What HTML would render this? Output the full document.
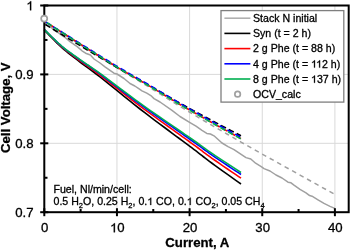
<!DOCTYPE html>
<html><head><meta charset="utf-8"><style>html,body{margin:0;padding:0;background:#fff;}svg{display:block;will-change:transform;}</style></head><body>
<svg width="350" height="250" viewBox="0 0 350 250">
<style>text{stroke:#000;stroke-width:0.3px;stroke-linejoin:round}.one{fill:none;stroke:none}</style>
<rect width="350" height="250" fill="#fff"/>
<line x1="116.95" y1="5.5" x2="116.95" y2="212.2" stroke="#d9d9d9" stroke-width="1"/>
<line x1="189.60" y1="5.5" x2="189.60" y2="212.2" stroke="#d9d9d9" stroke-width="1"/>
<line x1="262.25" y1="5.5" x2="262.25" y2="212.2" stroke="#d9d9d9" stroke-width="1"/>
<line x1="334.90" y1="5.5" x2="334.90" y2="212.2" stroke="#d9d9d9" stroke-width="1"/>
<line x1="44.3" y1="74.40" x2="348.7" y2="74.40" stroke="#d9d9d9" stroke-width="1"/>
<line x1="44.3" y1="143.30" x2="348.7" y2="143.30" stroke="#d9d9d9" stroke-width="1"/>
<path d="M44.30,21.50 L45.41,22.22 L46.79,23.11 L48.41,24.16 L50.27,25.36 L52.38,26.72 L54.70,28.22 L57.25,29.86 L60.00,31.63 L63.07,33.60 L66.49,35.81 L70.20,38.20 L74.11,40.71 L78.12,43.29 L82.16,45.88 L86.15,48.43 L90.00,50.87 L93.75,53.25 L97.50,55.61 L101.25,57.97 L105.00,60.32 L108.75,62.66 L112.50,64.99 L116.25,67.31 L120.00,69.62 L123.75,71.90 L127.50,74.17 L131.25,76.41 L135.00,78.65 L138.75,80.89 L142.50,83.13 L146.25,85.39 L150.00,87.67 L153.75,89.99 L157.50,92.33 L161.25,94.68 L165.00,97.05 L168.75,99.41 L172.50,101.76 L176.25,104.09 L180.00,106.39 L183.74,108.66 L187.48,110.90 L191.21,113.13 L194.94,115.35 L198.68,117.56 L202.43,119.77 L206.20,121.98 L210.00,124.21 L214.04,126.56 L218.41,129.09 L222.91,131.70 L227.38,134.27 L231.60,136.70 L235.41,138.88 L238.60,140.72 L241.00,142.10 L262.00,153.96 L334.60,194.30" fill="none" stroke="#a0a0a0" stroke-width="1.5" stroke-dasharray="4.6,3.95" stroke-dashoffset="1.39"/>
<path d="M44.50,23.40 L50.00,26.80 L55.00,30.20 L61.50,35.20 L66.00,38.20 L70.00,41.60 L77.20,46.60 L82.00,50.80 L85.60,53.20 L90.40,55.00 L94.00,59.00 L100.00,63.00 L105.00,66.80 L110.00,70.40 L114.00,73.20 L117.00,74.00 L124.00,78.50 L130.00,83.50 L134.80,86.00 L138.40,88.40 L142.00,90.80 L146.80,93.20 L151.60,96.20 L154.00,98.60 L160.00,102.00 L172.00,110.40 L180.00,116.50 L190.00,122.60 L196.00,126.20 L202.00,130.40 L206.80,133.40 L210.40,134.00 L214.00,135.80 L222.00,143.00 L228.00,146.60 L234.00,149.60 L240.00,153.60 L246.00,157.60 L250.80,159.00 L255.60,163.20 L261.60,166.80 L264.00,168.60 L270.00,171.00 L276.00,175.00 L282.00,178.00 L288.00,182.20 L291.00,182.80 L294.00,185.20 L300.00,189.40 L306.00,192.80 L309.60,195.60 L312.00,196.20 L318.00,199.80 L324.00,203.40 L330.00,206.40 L334.80,208.40" fill="none" stroke="#a0a0a0" stroke-width="1.5" stroke-linejoin="round"/>
<path d="M44.30,30.00 L45.63,31.36 L47.38,33.19 L49.47,35.36 L51.80,37.77 L54.27,40.30 L56.79,42.82 L59.27,45.22 L61.60,47.38 L63.84,49.34 L66.09,51.22 L68.35,53.05 L70.63,54.85 L72.93,56.62 L75.26,58.40 L77.62,60.19 L80.00,62.01 L82.29,63.75 L84.42,65.32 L86.50,66.84 L88.65,68.39 L90.96,70.08 L93.56,72.00 L96.53,74.26 L100.00,76.94 L104.07,80.17 L108.69,83.87 L113.71,87.93 L119.00,92.22 L124.41,96.59 L129.81,100.94 L135.05,105.12 L140.00,109.00 L144.80,112.70 L149.66,116.40 L154.50,120.04 L159.25,123.59 L163.85,127.00 L168.22,130.24 L172.29,133.27 L176.00,136.03 L179.29,138.50 L182.22,140.68 L184.85,142.63 L187.25,144.42 L189.50,146.09 L191.66,147.70 L193.80,149.30 L196.00,150.96 L198.10,152.57 L199.98,154.02 L201.72,155.40 L203.44,156.75 L205.22,158.15 L207.18,159.66 L209.41,161.34 L212.00,163.26 L215.20,165.59 L219.02,168.34 L223.20,171.33 L227.50,174.40 L231.68,177.37 L235.48,180.08 L238.67,182.34 L241.00,184.00" fill="none" stroke="#000" stroke-width="1.6"/>
<path d="M44.30,29.80 L45.63,31.12 L47.38,32.90 L49.47,35.02 L51.80,37.36 L54.27,39.81 L56.79,42.26 L59.27,44.59 L61.60,46.68 L63.84,48.58 L66.09,50.40 L68.35,52.17 L70.63,53.90 L72.93,55.61 L75.26,57.32 L77.62,59.04 L80.00,60.80 L82.29,62.47 L84.42,63.98 L86.50,65.44 L88.65,66.93 L90.96,68.55 L93.56,70.40 L96.53,72.57 L100.00,75.16 L104.07,78.26 L108.69,81.84 L113.71,85.75 L119.00,89.89 L124.41,94.11 L129.81,98.30 L135.05,102.33 L140.00,106.08 L144.80,109.64 L149.66,113.20 L154.50,116.70 L159.25,120.11 L163.85,123.40 L168.22,126.51 L172.29,129.42 L176.00,132.08 L179.29,134.45 L182.22,136.55 L184.85,138.43 L187.25,140.15 L189.50,141.75 L191.66,143.30 L193.80,144.85 L196.00,146.44 L198.10,147.99 L199.98,149.39 L201.72,150.71 L203.44,152.02 L205.22,153.37 L207.18,154.82 L209.41,156.44 L212.00,158.29 L215.20,160.53 L219.02,163.17 L223.20,166.04 L227.50,168.99 L231.68,171.84 L235.48,174.43 L238.67,176.61 L241.00,178.20" fill="none" stroke="#ff0000" stroke-width="1.6"/>
<path d="M44.30,29.60 L45.63,30.90 L47.38,32.64 L49.47,34.72 L51.80,37.03 L54.27,39.44 L56.79,41.84 L59.27,44.12 L61.60,46.18 L63.84,48.03 L66.09,49.81 L68.35,51.54 L70.63,53.23 L72.93,54.90 L75.26,56.57 L77.62,58.25 L80.00,59.96 L82.29,61.59 L84.42,63.07 L86.50,64.49 L88.65,65.94 L90.96,67.52 L93.56,69.32 L96.53,71.44 L100.00,73.97 L104.07,77.00 L108.69,80.49 L113.71,84.32 L119.00,88.36 L124.41,92.49 L129.81,96.58 L135.05,100.52 L140.00,104.17 L144.80,107.65 L149.66,111.12 L154.50,114.54 L159.25,117.87 L163.85,121.07 L168.22,124.11 L172.29,126.95 L176.00,129.54 L179.29,131.85 L182.22,133.90 L184.85,135.73 L187.25,137.40 L189.50,138.97 L191.66,140.48 L193.80,141.99 L196.00,143.54 L198.10,145.05 L199.98,146.42 L201.72,147.71 L203.44,148.99 L205.22,150.30 L207.18,151.72 L209.41,153.30 L212.00,155.11 L215.20,157.29 L219.02,159.86 L223.20,162.66 L227.50,165.53 L231.68,168.30 L235.48,170.83 L238.67,172.95 L241.00,174.50" fill="none" stroke="#0000ff" stroke-width="1.6"/>
<path d="M44.30,29.60 L45.63,30.88 L47.38,32.61 L49.47,34.67 L51.80,36.95 L54.27,39.33 L56.79,41.71 L59.27,43.97 L61.60,46.00 L63.84,47.83 L66.09,49.59 L68.35,51.30 L70.63,52.96 L72.93,54.61 L75.26,56.25 L77.62,57.91 L80.00,59.60 L82.29,61.21 L84.42,62.66 L86.50,64.06 L88.65,65.49 L90.96,67.04 L93.56,68.82 L96.53,70.91 L100.00,73.40 L104.07,76.39 L108.69,79.84 L113.71,83.61 L119.00,87.60 L124.41,91.67 L129.81,95.71 L135.05,99.60 L140.00,103.20 L144.80,106.63 L149.66,110.05 L154.50,113.42 L159.25,116.70 L163.85,119.86 L168.22,122.85 L172.29,125.64 L176.00,128.20 L179.29,130.48 L182.22,132.49 L184.85,134.30 L187.25,135.95 L189.50,137.49 L191.66,138.98 L193.80,140.47 L196.00,142.00 L198.10,143.49 L199.98,144.84 L201.72,146.11 L203.44,147.37 L205.22,148.67 L207.18,150.06 L209.41,151.62 L212.00,153.40 L215.20,155.55 L219.02,158.08 L223.20,160.84 L227.50,163.66 L231.68,166.40 L235.48,168.89 L238.67,170.97 L241.00,172.50" fill="none" stroke="#00b050" stroke-width="1.6"/>
<path d="M44.30,21.00 L45.41,21.72 L46.79,22.60 L48.41,23.65 L50.27,24.85 L52.38,26.20 L54.70,27.69 L57.25,29.32 L60.00,31.09 L63.07,33.05 L66.49,35.25 L70.20,37.63 L74.11,40.13 L78.12,42.70 L82.16,45.28 L86.15,47.82 L90.00,50.25 L93.75,52.61 L97.50,54.96 L101.25,57.31 L105.00,59.64 L108.75,61.97 L112.50,64.28 L116.25,66.57 L120.00,68.84 L123.75,71.08 L127.50,73.29 L131.25,75.48 L135.00,77.66 L138.75,79.83 L142.50,82.00 L146.25,84.19 L150.00,86.41 L153.75,88.65 L157.50,90.91 L161.25,93.19 L165.00,95.47 L168.75,97.75 L172.50,100.01 L176.25,102.26 L180.00,104.47 L183.74,106.65 L187.48,108.81 L191.21,110.94 L194.94,113.06 L198.68,115.18 L202.43,117.29 L206.20,119.41 L210.00,121.53 L214.04,123.78 L218.41,126.20 L222.91,128.68 L227.38,131.13 L231.60,133.45 L235.41,135.53 L238.60,137.28 L241.00,138.60" fill="none" stroke="#ff0000" stroke-width="1.6" stroke-dasharray="5.6,3.21" stroke-dashoffset="3.16"/>
<path d="M44.30,23.79 L45.41,24.48 L46.79,25.33 L48.41,26.33 L50.27,27.48 L52.38,28.77 L54.70,30.20 L57.25,31.76 L60.00,33.43 L63.07,35.29 L66.49,37.37 L70.20,39.62 L74.11,41.98 L78.12,44.40 L82.16,46.84 L86.15,49.23 L90.00,51.53 L93.75,53.77 L97.50,56.01 L101.25,58.24 L105.00,60.46 L108.75,62.67 L112.50,64.87 L116.25,67.06 L120.00,69.22 L123.75,71.36 L127.50,73.47 L131.25,75.56 L135.00,77.64 L138.75,79.71 L142.50,81.79 L146.25,83.89 L150.00,86.00 L153.75,88.14 L157.50,90.30 L161.25,92.47 L165.00,94.65 L168.75,96.82 L172.50,98.98 L176.25,101.12 L180.00,103.23 L183.74,105.31 L187.48,107.37 L191.21,109.41 L194.94,111.43 L198.68,113.45 L202.43,115.47 L206.20,117.49 L210.00,119.52 L214.04,121.66 L218.41,123.97 L222.91,126.34 L227.38,128.68 L231.60,130.89 L235.41,132.87 L238.60,134.54 L241.00,135.80" fill="none" stroke="#000" stroke-width="1.6" stroke-dasharray="5.6,3.21" stroke-dashoffset="7.56"/>
<path d="M44.30,21.00 L45.41,21.70 L46.79,22.57 L48.41,23.59 L50.27,24.77 L52.38,26.09 L54.70,27.56 L57.25,29.16 L60.00,30.89 L63.07,32.81 L66.49,34.97 L70.20,37.30 L74.11,39.75 L78.12,42.27 L82.16,44.79 L86.15,47.28 L90.00,49.67 L93.75,52.00 L97.50,54.32 L101.25,56.64 L105.00,58.95 L108.75,61.25 L112.50,63.54 L116.25,65.81 L120.00,68.06 L123.75,70.28 L127.50,72.47 L131.25,74.64 L135.00,76.80 L138.75,78.96 L142.50,81.12 L146.25,83.29 L150.00,85.49 L153.75,87.71 L157.50,89.96 L161.25,92.22 L165.00,94.48 L168.75,96.75 L172.50,99.00 L176.25,101.22 L180.00,103.42 L183.74,105.59 L187.48,107.72 L191.21,109.85 L194.94,111.95 L198.68,114.05 L202.43,116.15 L206.20,118.25 L210.00,120.36 L214.04,122.59 L218.41,124.99 L222.91,127.46 L227.38,129.89 L231.60,132.19 L235.41,134.26 L238.60,135.99 L241.00,137.30" fill="none" stroke="#0000ff" stroke-width="1.6" stroke-dasharray="5.6,3.21" stroke-dashoffset="7.12"/>
<path d="M44.30,21.00 L45.41,21.72 L46.79,22.61 L48.41,23.65 L50.27,24.86 L52.38,26.21 L54.70,27.71 L57.25,29.35 L60.00,31.11 L63.07,33.08 L66.49,35.29 L70.20,37.68 L74.11,40.19 L78.12,42.77 L82.16,45.35 L86.15,47.89 L90.00,50.33 L93.75,52.69 L97.50,55.05 L101.25,57.41 L105.00,59.75 L108.75,62.08 L112.50,64.39 L116.25,66.69 L120.00,68.97 L123.75,71.21 L127.50,73.43 L131.25,75.62 L135.00,77.80 L138.75,79.98 L142.50,82.16 L146.25,84.35 L150.00,86.57 L153.75,88.81 L157.50,91.08 L161.25,93.36 L165.00,95.65 L168.75,97.93 L172.50,100.20 L176.25,102.45 L180.00,104.67 L183.74,106.86 L187.48,109.02 L191.21,111.16 L194.94,113.29 L198.68,115.41 L202.43,117.53 L206.20,119.65 L210.00,121.78 L214.04,124.04 L218.41,126.46 L222.91,128.95 L227.38,131.41 L231.60,133.73 L235.41,135.82 L238.60,137.58 L241.00,138.90" fill="none" stroke="#00b050" stroke-width="1.6" stroke-dasharray="5.6,3.21" stroke-dashoffset="5.56"/>
<rect x="44.3" y="5.5" width="304.4" height="206.7" fill="none" stroke="#000" stroke-width="2"/>
<line x1="40.2" y1="5.50" x2="48.3" y2="5.50" stroke="#000" stroke-width="2"/>
<line x1="40.2" y1="74.40" x2="48.3" y2="74.40" stroke="#000" stroke-width="2"/>
<line x1="40.2" y1="143.30" x2="48.3" y2="143.30" stroke="#000" stroke-width="2"/>
<line x1="40.2" y1="212.20" x2="48.3" y2="212.20" stroke="#000" stroke-width="2"/>
<line x1="44.3" y1="39.95" x2="47.5" y2="39.95" stroke="#000" stroke-width="2"/>
<line x1="44.3" y1="108.85" x2="47.5" y2="108.85" stroke="#000" stroke-width="2"/>
<line x1="44.3" y1="177.75" x2="47.5" y2="177.75" stroke="#000" stroke-width="2"/>
<line x1="44.30" y1="208.2" x2="44.30" y2="216.2" stroke="#000" stroke-width="2"/>
<line x1="116.95" y1="208.2" x2="116.95" y2="216.2" stroke="#000" stroke-width="2"/>
<line x1="189.60" y1="208.2" x2="189.60" y2="216.2" stroke="#000" stroke-width="2"/>
<line x1="262.25" y1="208.2" x2="262.25" y2="216.2" stroke="#000" stroke-width="2"/>
<line x1="334.90" y1="208.2" x2="334.90" y2="216.2" stroke="#000" stroke-width="2"/>
<line x1="80.62" y1="212.2" x2="80.62" y2="209" stroke="#000" stroke-width="2"/>
<line x1="153.27" y1="212.2" x2="153.27" y2="209" stroke="#000" stroke-width="2"/>
<line x1="225.93" y1="212.2" x2="225.93" y2="209" stroke="#000" stroke-width="2"/>
<line x1="298.57" y1="212.2" x2="298.57" y2="209" stroke="#000" stroke-width="2"/>
<circle cx="44.2" cy="18.6" r="3.05" fill="#fff" stroke="#a0a0a0" stroke-width="1.7"/>
<text x="33.6" y="10.30" font-family="Liberation Sans, sans-serif" font-size="13.2" text-anchor="end" fill="#000"><tspan class="one">1</tspan></text>
<text x="33.6" y="79.20" font-family="Liberation Sans, sans-serif" font-size="13.2" text-anchor="end" fill="#000">0.9</text>
<text x="33.6" y="148.10" font-family="Liberation Sans, sans-serif" font-size="13.2" text-anchor="end" fill="#000">0.8</text>
<text x="33.6" y="217.00" font-family="Liberation Sans, sans-serif" font-size="13.2" text-anchor="end" fill="#000">0.7</text>
<text x="44.70" y="232.3" font-family="Liberation Sans, sans-serif" font-size="13.2" text-anchor="middle" fill="#000">0</text>
<text x="117.35" y="232.3" font-family="Liberation Sans, sans-serif" font-size="13.2" text-anchor="middle" fill="#000"><tspan class="one">1</tspan>0</text>
<text x="190.00" y="232.3" font-family="Liberation Sans, sans-serif" font-size="13.2" text-anchor="middle" fill="#000">20</text>
<text x="262.65" y="232.3" font-family="Liberation Sans, sans-serif" font-size="13.2" text-anchor="middle" fill="#000">30</text>
<text x="335.30" y="232.3" font-family="Liberation Sans, sans-serif" font-size="13.2" text-anchor="middle" fill="#000">40</text>
<text x="197.3" y="247.1" font-family="Liberation Sans, sans-serif" font-size="13.2" font-weight="bold" text-anchor="middle">Current, A</text>
<text transform="translate(10.2,107.7) rotate(-90)" x="0" y="0" font-family="Liberation Sans, sans-serif" font-size="13.2" font-weight="bold" text-anchor="middle">Cell Voltage, V</text>
<text x="53.5" y="192.5" font-family="Liberation Sans, sans-serif" font-size="10.6">Fuel, Nl/min/cell:</text>
<text x="53.5" y="205" font-family="Liberation Sans, sans-serif" font-size="10.6">0.5 H<tspan font-size="7.5" dy="2.5">2</tspan><tspan dy="-2.5">O, 0.25 H</tspan><tspan font-size="7.5" dy="2.5">2</tspan><tspan dy="-2.5">, 0.<tspan class="one">1</tspan> CO, 0.<tspan class="one">1</tspan> CO</tspan><tspan font-size="7.5" dy="2.5">2</tspan><tspan dy="-2.5">, 0.05 CH</tspan><tspan font-size="7.5" dy="2.5">4</tspan></text>
<rect x="221" y="10.6" width="122.8" height="91.5" fill="#fff" stroke="#7f7f7f" stroke-width="1.3"/>
<line x1="224.4" y1="18.20" x2="250.4" y2="18.20" stroke="#b0b0b0" stroke-width="1.6"/>
<text x="253" y="22.00" font-family="Liberation Sans, sans-serif" font-size="10.6">Stack N initial</text>
<line x1="224.4" y1="33.40" x2="250.4" y2="33.40" stroke="#000" stroke-width="1.6"/>
<text x="253" y="37.20" font-family="Liberation Sans, sans-serif" font-size="10.6">Syn (t = 2 h)</text>
<line x1="224.4" y1="48.60" x2="250.4" y2="48.60" stroke="#ff0000" stroke-width="1.6"/>
<text x="253" y="52.40" font-family="Liberation Sans, sans-serif" font-size="10.6">2 g Phe (t = 88 h)</text>
<line x1="224.4" y1="63.80" x2="250.4" y2="63.80" stroke="#0000ff" stroke-width="1.6"/>
<text x="253" y="67.60" font-family="Liberation Sans, sans-serif" font-size="10.6">4 g Phe (t = <tspan class="one">1</tspan><tspan class="one">1</tspan>2 h)</text>
<line x1="224.4" y1="79.00" x2="250.4" y2="79.00" stroke="#00b050" stroke-width="1.6"/>
<text x="253" y="82.80" font-family="Liberation Sans, sans-serif" font-size="10.6">8 g Phe (t = <tspan class="one">1</tspan>37 h)</text>
<circle cx="237.6" cy="94.20" r="2.75" fill="#fff" stroke="#a0a0a0" stroke-width="1.7"/>
<text x="253" y="98.00" font-family="Liberation Sans, sans-serif" font-size="10.6">OCV_calc</text>
<path transform="translate(26.256,10.300) scale(0.006445,-0.006445)" d="M763,0 L583,0 L583,1102 Q520,1044 418,987 Q316,929 223,894 L223,1061 Q375,1129 489,1226 Q603,1323 650,1409 L763,1409 Z" fill="#000" stroke="#000" stroke-width="46.5" stroke-linejoin="round"/>
<path transform="translate(110.006,232.300) scale(0.006445,-0.006445)" d="M763,0 L583,0 L583,1102 Q520,1044 418,987 Q316,929 223,894 L223,1061 Q375,1129 489,1226 Q603,1323 650,1409 L763,1409 Z" fill="#000" stroke="#000" stroke-width="46.5" stroke-linejoin="round"/>
<path transform="translate(147.250,205.000) scale(0.005176,-0.005176)" d="M763,0 L583,0 L583,1102 Q520,1044 418,987 Q316,929 223,894 L223,1061 Q375,1129 489,1226 Q603,1323 650,1409 L763,1409 Z" fill="#000" stroke="#000" stroke-width="58.0" stroke-linejoin="round"/>
<path transform="translate(186.719,205.000) scale(0.005176,-0.005176)" d="M763,0 L583,0 L583,1102 Q520,1044 418,987 Q316,929 223,894 L223,1061 Q375,1129 489,1226 Q603,1323 650,1409 L763,1409 Z" fill="#000" stroke="#000" stroke-width="58.0" stroke-linejoin="round"/>
<path transform="translate(311.016,67.600) scale(0.005176,-0.005176)" d="M763,0 L583,0 L583,1102 Q520,1044 418,987 Q316,929 223,894 L223,1061 Q375,1129 489,1226 Q603,1323 650,1409 L763,1409 Z" fill="#000" stroke="#000" stroke-width="58.0" stroke-linejoin="round"/>
<path transform="translate(316.125,67.600) scale(0.005176,-0.005176)" d="M763,0 L583,0 L583,1102 Q520,1044 418,987 Q316,929 223,894 L223,1061 Q375,1129 489,1226 Q603,1323 650,1409 L763,1409 Z" fill="#000" stroke="#000" stroke-width="58.0" stroke-linejoin="round"/>
<path transform="translate(311.016,82.800) scale(0.005176,-0.005176)" d="M763,0 L583,0 L583,1102 Q520,1044 418,987 Q316,929 223,894 L223,1061 Q375,1129 489,1226 Q603,1323 650,1409 L763,1409 Z" fill="#000" stroke="#000" stroke-width="58.0" stroke-linejoin="round"/>
</svg>
</body></html>
